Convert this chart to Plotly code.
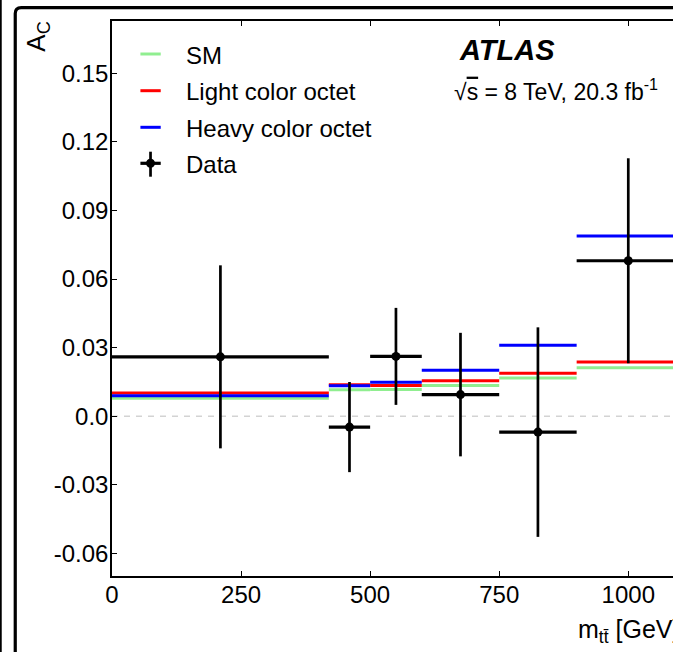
import plotly.graph_objects as go

# ---------------- data ----------------
bin_edges = [0, 420, 500, 600, 750, 900, 1100]
data_ac = [0.026, -0.0047, 0.0262, 0.0095, -0.0069, 0.068]
data_err = [0.040, 0.0197, 0.0212, 0.027, 0.0458, 0.0448]
sm_ac = [0.0079, 0.0116, 0.0117, 0.0135, 0.0168, 0.0212]
light_ac = [0.0102, 0.0138, 0.0135, 0.0156, 0.0188, 0.0237]
heavy_ac = [0.0090, 0.0134, 0.0149, 0.0201, 0.0311, 0.0788]
y_tickvals = [-0.06, -0.03, 0.0, 0.03, 0.06, 0.09, 0.12, 0.15]
y_ticktext = ["-0.06", "-0.03", "0.0", "0.03", "0.06", "0.09", "0.12", "0.15"]
x_tickvals = [0, 250, 500, 750, 1000]
legend_labels = ["SM", "Light color octet", "Heavy color octet", "Data"]

# ---------------- layout geometry ----------------
W, H = 673, 652
L, T, R_, B = 112.3, 21.0, 673.0, 576.0
PW, PH = R_ - L, B - T
FONT = "Liberation Sans, Arial, Helvetica, sans-serif"


def px2x(px):
    return (px - L) / PW


def py2y(py):
    return (B - py) / PH


centers = [(a + b) / 2 for a, b in zip(bin_edges[:-1], bin_edges[1:])]
halfw = [(b - a) / 2 for a, b in zip(bin_edges[:-1], bin_edges[1:])]


def steps(vals):
    xs, ys = [], []
    for a, b, v in zip(bin_edges[:-1], bin_edges[1:], vals):
        xs += [a, b, None]
        ys += [v, v, None]
    return xs, ys


fig = go.Figure()
for vals, col in [(sm_ac, "#90ee90"), (light_ac, "#ff0000"), (heavy_ac, "#0000ff")]:
    xs, ys = steps(vals)
    fig.add_trace(go.Scatter(x=xs, y=ys, mode="lines",
                             line=dict(color=col, width=3), showlegend=False,
                             hoverinfo="skip"))

fig.add_trace(go.Scatter(
    x=centers, y=data_ac, mode="markers",
    marker=dict(color="black", size=9),
    error_x=dict(type="data", array=halfw, color="black", thickness=3.2, width=0),
    error_y=dict(type="data", array=data_err, color="black", thickness=2.7, width=0),
    showlegend=False))

shapes = []
# zero line
shapes.append(dict(type="line", xref="paper", yref="y", x0=0, x1=1, y0=0, y1=0,
                   line=dict(color="#d3d3d3", width=1.5, dash="6px,6px"), layer="below"))
# outer frames
shapes.append(dict(type="line", xref="paper", yref="paper",
                   x0=px2x(1), x1=px2x(1), y0=py2y(-10), y1=py2y(700),
                   line=dict(color="black", width=2.2)))
fx, fy, r = 15.6, 7.6, 6
path = (f"M {px2x(fx)},{py2y(700)} L {px2x(fx)},{py2y(fy + r)} "
        f"Q {px2x(fx)},{py2y(fy)} {px2x(fx + r)},{py2y(fy)} L {px2x(700)},{py2y(fy)}")
shapes.append(dict(type="path", xref="paper", yref="paper", path=path,
                   line=dict(color="black", width=3.2)))

# manual legend
leg_y = [54.0, 90.7, 127.3, 163.3]
leg_cols = ["#90ee90", "#ff0000", "#0000ff"]
for yy, c in zip(leg_y[:3], leg_cols):
    shapes.append(dict(type="line", xref="paper", yref="paper",
                       x0=px2x(140.7), x1=px2x(161), y0=py2y(yy), y1=py2y(yy),
                       line=dict(color=c, width=3)))
shapes.append(dict(type="line", xref="paper", yref="paper",
                   x0=px2x(140.7), x1=px2x(161), y0=py2y(leg_y[3]), y1=py2y(leg_y[3]),
                   line=dict(color="black", width=3.2)))
shapes.append(dict(type="line", xref="paper", yref="paper",
                   x0=px2x(150.8), x1=px2x(150.8), y0=py2y(151.7), y1=py2y(176.7),
                   line=dict(color="black", width=2.7)))
shapes.append(dict(type="circle", xref="paper", yref="paper",
                   x0=px2x(146.3), x1=px2x(155.3), y0=py2y(158.8), y1=py2y(167.8),
                   fillcolor="black", line=dict(color="black", width=0)))

annotations = []
for yy, lab in zip(leg_y, legend_labels):
    annotations.append(dict(text=lab, xref="paper", yref="paper", x=px2x(184),
                            y=py2y(yy + 1), xanchor="left", yanchor="middle",
                            showarrow=False, font=dict(size=24, color="black", family=FONT)))
annotations.append(dict(text="<b><i>ATLAS</i></b>", xref="paper", yref="paper",
                        x=px2x(457), y=py2y(50), xanchor="left", yanchor="middle",
                        showarrow=False, font=dict(size=29, color="black", family=FONT)))
annotations.append(dict(text="√<span style='text-decoration:overline'>s</span> = 8 TeV, 20.3 fb<sup>-1</sup>",
                        xref="paper", yref="paper",
                        x=px2x(452), y=py2y(90), xanchor="left", yanchor="middle",
                        showarrow=False, font=dict(size=23, color="black", family=FONT)))
annotations.append(dict(text="A<sub>C</sub>", xref="paper", yref="paper",
                        x=px2x(37), y=py2y(37), xanchor="center", yanchor="middle",
                        textangle=-90, showarrow=False,
                        font=dict(size=26, color="black", family=FONT)))
annotations.append(dict(text="m<sub>tt\u0304</sub> [GeV]", xref="paper", yref="paper",
                        x=px2x(576), y=py2y(631), xanchor="left", yanchor="middle",
                        showarrow=False, font=dict(size=25, color="black", family=FONT)))

fig.update_layout(
    width=W, height=H,
    margin=dict(l=L, r=W - R_, t=T, b=H - B, pad=0),
    paper_bgcolor="white", plot_bgcolor="white",
    font=dict(family=FONT, color="black", size=24),
    shapes=shapes, annotations=annotations, showlegend=False,
    xaxis=dict(range=[0, (R_ - L) / 0.516], tickvals=x_tickvals, ticks="inside",
               ticklen=5, tickwidth=1, tickcolor="black", showline=True,
               linecolor="black", linewidth=1.5, mirror="ticks", showgrid=False,
               zeroline=False, automargin=False, tickfont=dict(size=24),
               ticklabelstandoff=-4),
    yaxis=dict(range=[-0.0698, 0.1728], tickvals=y_tickvals, ticktext=y_ticktext,
               ticks="inside", ticklen=5, tickwidth=1, tickcolor="black",
               showline=True, linecolor="black", linewidth=1.5, mirror=False,
               showgrid=False, zeroline=False, automargin=False,
               tickfont=dict(size=24), ticklabelstandoff=-3),
)

fig.write_html(
    "out.html",
    config={"displayModeBar": False},
    post_script="document.body.style.margin='0';document.body.style.overflow='hidden';",
)
